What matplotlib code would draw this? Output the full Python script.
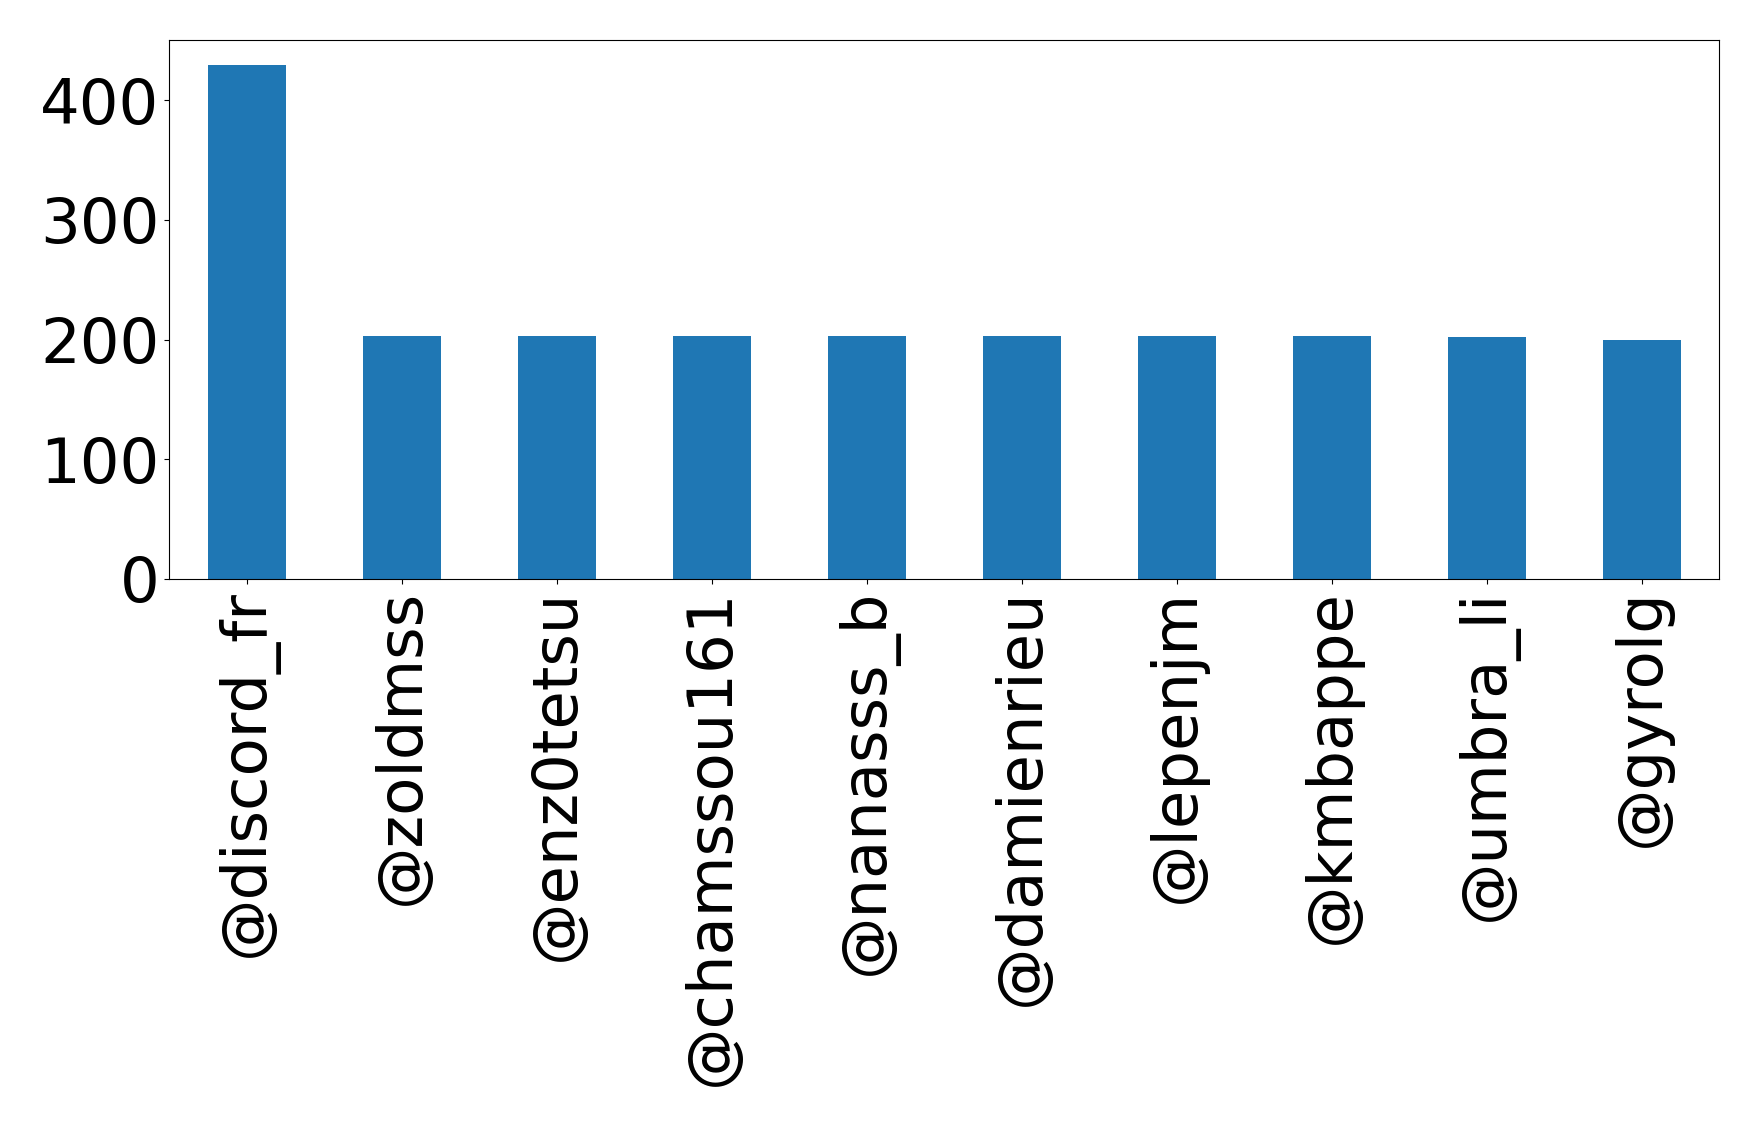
import numpy as np
import matplotlib
matplotlib.use("Agg")
from matplotlib import pyplot as plt

users = ["@discord_fr", "@zoldmss", "@enz0tetsu", "@chamssou161", "@nanasss_b",
         "@damienrieu", "@lepenjm", "@kmbappe", "@umbra_li", "@gyrolg"]
counts = [429, 203, 203, 203, 203, 203, 203, 203, 202, 200]

fig = plt.figure(figsize=(17.59, 11.26), dpi=100)
ax = fig.add_axes([0.0963, 0.4858, 0.8812, 0.4784])

x = np.arange(len(users))
ax.bar(x, counts, width=0.5, color='#1f77b4')
ax.set_xlim(-0.5, len(users) - 0.5)
ax.set_ylim(0, 450)
ax.set_yticks([0, 100, 200, 300, 400])
ax.set_xticks(x)
ax.set_xticklabels(users, rotation=90)
ax.tick_params(axis='both', labelsize=45)

fig.savefig("out.png", dpi=100)
